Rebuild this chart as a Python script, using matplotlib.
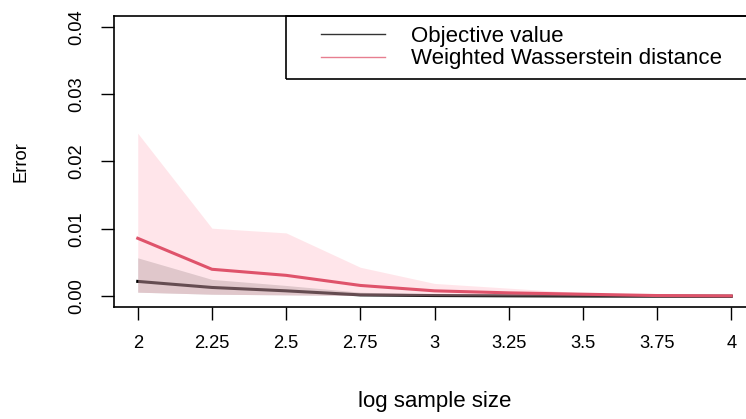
import numpy as np
import matplotlib
matplotlib.use("Agg")
import matplotlib.pyplot as plt
from matplotlib.lines import Line2D
from matplotlib.patches import Rectangle

# values
log_n = [2, 2.25, 2.5, 2.75, 3, 3.25, 3.5, 3.75, 4]
x_ticklabels = ["2", "2.25", "2.5", "2.75", "3", "3.25", "3.5", "3.75", "4"]

obj_mean = [0.0022, 0.0013, 0.0008, 0.0002, 0.0001, 0.00006, 0.00003, 0.00001, 0.0]
obj_hi = [0.0057, 0.0025, 0.0016, 0.0006, 0.0003, 0.00015, 0.00008, 0.00004, 0.00002]
obj_lo = [0.0006, 0.0003, 0.0002, 0.0001, 0.00005, 0.00002, 0.00001, 0.0, 0.0]

wass_mean = [0.0086, 0.0040, 0.0031, 0.0016, 0.0008, 0.0005, 0.0003, 0.0001, 0.00005]
wass_hi = [0.0242, 0.0101, 0.0094, 0.0043, 0.0019, 0.0012, 0.0005, 0.0002, 0.0001]
wass_lo = [0.0006, 0.0003, 0.0002, 0.0001, 0.00005, 0.00003, 0.00002, 0.00001, 0.0]

C_RED = "#DF536B"
C_PINK = "#FFC0CB"
FS_TICK = 13.2
FS_BIG = 16

plt.rcParams.update({
    "font.family": ["Liberation Sans", "DejaVu Sans"],
    "axes.linewidth": 1.2,
})

W, H = 746, 419
fig = plt.figure(figsize=(W / 100, H / 100), dpi=100)
# R-style plot region; right edge runs past the picture (cropped original)
L, R, T, B = 114, 755, 16, 307
ax = fig.add_axes([L / W, (H - B) / H, (R - L) / W, (B - T) / H])

# draw order matters: the pink band tints the black line below it
ax.fill_between(log_n, obj_lo, obj_hi, color="black", alpha=0.2, lw=0,
                zorder=1)
ax.plot(log_n, obj_mean, color="black", lw=2.2, zorder=2)
ax.fill_between(log_n, wass_lo, wass_hi, color=C_PINK, alpha=0.4, lw=0,
                zorder=3)
ax.plot(log_n, wass_mean, color=C_RED, lw=2.2, zorder=4)

ax.set_xlim(1.92, 4.08)
ax.set_ylim(-0.0016, 0.0416)
ax.set_xticks(log_n)
ax.set_xticklabels(x_ticklabels)
ax.set_yticks([0.0, 0.01, 0.02, 0.03, 0.04])
ax.set_yticklabels(["0.00", "0.01", "0.02", "0.03", "0.04"], rotation=90,
                   va="center")
ax.tick_params(direction="out", length=9.4, width=1.0, pad=11,
               labelsize=FS_TICK)

ax.set_xlabel("log sample size", fontsize=FS_BIG)
ax.set_ylabel("Error", fontsize=FS_TICK)
ax.xaxis.set_label_coords(0.5, -(391 - B) / (B - T))
ax.yaxis.set_label_coords(-(L - 30) / (R - L), 0.5)

# legend box (drawn by hand so the padding matches the original)
ax.add_patch(Rectangle(((286 - L) / (R - L), (B - 79) / (B - T)),
                       (R - 286) / (R - L), (79 - T) / (B - T),
                       transform=ax.transAxes, fill=False, ec="black",
                       lw=1.2, clip_on=False, zorder=5))
handles = [Line2D([0], [0], color="#333333", lw=1.0),
           Line2D([0], [0], color=C_RED, lw=1.0, alpha=0.75)]
ax.legend(handles, ["Objective value", "Weighted Wasserstein distance"],
          loc="upper left", bbox_to_anchor=((311 - L) / (R - L), 1.0),
          frameon=False, fontsize=FS_BIG, handlelength=2.88,
          handletextpad=1.17, borderpad=0.45, borderaxespad=0,
          labelspacing=0.06)

fig.savefig("out.png", dpi=100)
